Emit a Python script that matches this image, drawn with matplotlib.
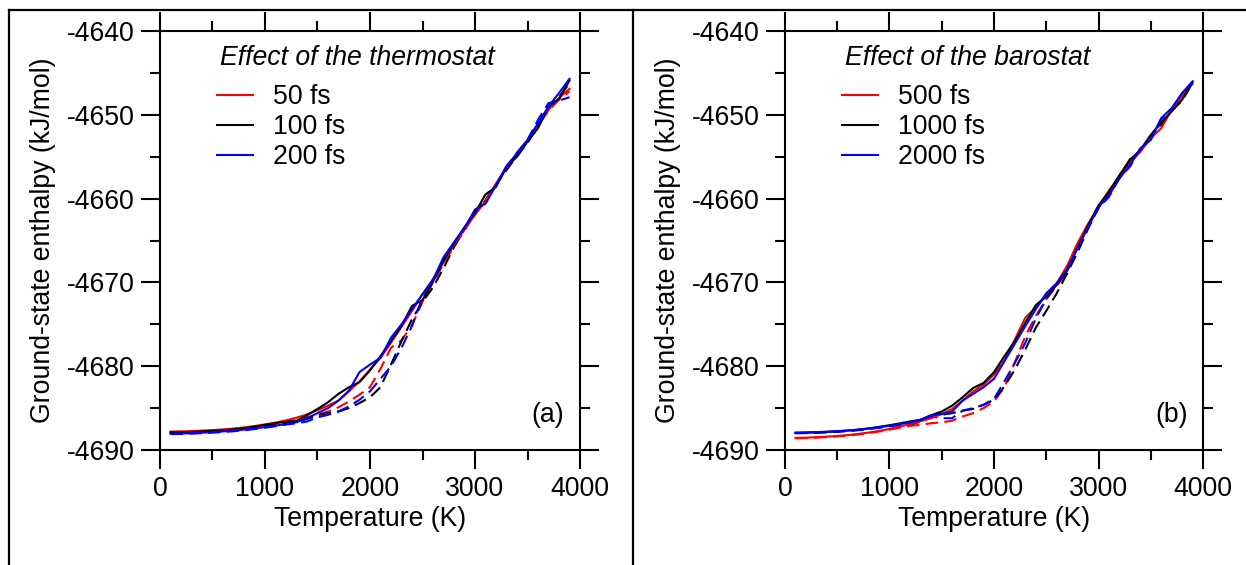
import matplotlib
matplotlib.use("Agg")
import matplotlib.pyplot as plt
from matplotlib.lines import Line2D
from matplotlib.ticker import MultipleLocator

plt.rcParams['font.family'] = ['Liberation Sans', 'DejaVu Sans']
plt.rcParams['axes.unicode_minus'] = False

# temperature grid (K), same for every curve
temp = [100, 200, 300, 400, 500, 600, 700, 800, 900, 1000,
        1100, 1200, 1300, 1400, 1500, 1600, 1700, 1800, 1900, 2000,
        2100, 2200, 2300, 2400, 2500, 2600, 2700, 2800, 2900, 3000,
        3100, 3200, 3300, 3400, 3500, 3600, 3700, 3800, 3900]

# (a) thermostat: solid = heating, dashed = cooling
a_labels = ["50 fs", "100 fs", "200 fs"]
a_red_solid = [-4687.80, -4687.78, -4687.74, -4687.68, -4687.62, -4687.54, -4687.44, -4687.30, -4687.14, -4686.94,
               -4686.72, -4686.46, -4686.14, -4685.75, -4685.25, -4684.70, -4684.10, -4683.00, -4681.80, -4680.40,
               -4679.00, -4677.20, -4675.30, -4673.40, -4671.40, -4669.60, -4667.60, -4665.50, -4663.70, -4661.90,
               -4660.30, -4658.20, -4656.30, -4654.80, -4653.10, -4651.40, -4649.40, -4648.00, -4646.90]
a_black_solid = [-4687.90, -4687.88, -4687.84, -4687.78, -4687.72, -4687.64, -4687.54, -4687.40, -4687.22, -4687.00,
                 -4686.80, -4686.62, -4686.50, -4685.85, -4685.10, -4684.30, -4683.30, -4682.50, -4681.90, -4680.50,
                 -4678.80, -4677.00, -4675.20, -4672.80, -4672.10, -4669.90, -4667.40, -4665.30, -4663.40, -4661.70,
                 -4659.50, -4658.60, -4656.20, -4655.00, -4653.20, -4651.60, -4649.00, -4648.10, -4645.90]
a_blue_solid = [-4688.05, -4688.03, -4687.99, -4687.93, -4687.86, -4687.78, -4687.68, -4687.56, -4687.42, -4687.26,
                -4687.08, -4686.90, -4686.68, -4686.20, -4685.60, -4685.00, -4684.10, -4682.90, -4680.70, -4679.80,
                -4679.00, -4676.60, -4675.00, -4673.20, -4671.40, -4669.70, -4667.00, -4665.20, -4663.50, -4661.30,
                -4660.60, -4658.40, -4656.10, -4654.60, -4653.00, -4651.00, -4649.00, -4647.40, -4645.70]
a_red_dash = [-4687.85, -4687.83, -4687.79, -4687.73, -4687.66, -4687.58, -4687.48, -4687.36, -4687.22, -4687.06,
              -4686.88, -4686.66, -4686.40, -4686.10, -4685.80, -4685.40, -4684.90, -4684.20, -4683.40, -4682.50,
              -4680.30, -4677.80, -4676.90, -4675.10, -4672.30, -4670.00, -4667.80, -4665.70, -4663.80, -4661.60,
              -4660.10, -4658.40, -4656.40, -4654.70, -4652.90, -4651.20, -4649.50, -4648.20, -4647.20]
a_black_dash = [-4687.95, -4687.93, -4687.89, -4687.84, -4687.78, -4687.70, -4687.60, -4687.48, -4687.33, -4687.15,
                -4687.00, -4686.82, -4686.62, -4686.30, -4685.85, -4685.60, -4685.40, -4685.00, -4684.40, -4683.70,
                -4682.50, -4679.80, -4677.00, -4674.40, -4672.30, -4670.60, -4668.30, -4665.80, -4663.60, -4661.90,
                -4660.20, -4658.30, -4656.60, -4654.90, -4653.40, -4651.10, -4649.20, -4647.90, -4646.20]
a_blue_dash = [-4688.10, -4688.08, -4688.04, -4687.99, -4687.93, -4687.85, -4687.76, -4687.64, -4687.50, -4687.34,
               -4687.16, -4686.96, -4686.80, -4686.60, -4686.10, -4685.80, -4685.40, -4684.80, -4684.00, -4683.00,
               -4681.50, -4680.00, -4677.80, -4675.20, -4671.80, -4669.80, -4667.60, -4665.40, -4663.60, -4661.40,
               -4660.50, -4658.30, -4656.20, -4654.50, -4653.00, -4650.60, -4648.60, -4648.30, -4647.90]

# (b) barostat
b_labels = ["500 fs", "1000 fs", "2000 fs"]
b_red_solid = [-4688.55, -4688.52, -4688.47, -4688.40, -4688.32, -4688.22, -4688.08, -4687.92, -4687.72, -4687.48,
               -4687.20, -4686.90, -4686.55, -4686.20, -4685.70, -4685.10, -4684.10, -4683.00, -4682.20, -4681.00,
               -4679.30, -4676.80, -4674.20, -4673.00, -4671.40, -4670.10, -4668.00, -4665.30, -4663.00, -4661.00,
               -4659.00, -4657.40, -4655.80, -4654.40, -4652.80, -4651.60, -4649.40, -4647.80, -4646.30]
b_black_solid = [-4687.95, -4687.93, -4687.89, -4687.84, -4687.77, -4687.68, -4687.57, -4687.42, -4687.24, -4687.04,
                 -4686.82, -4686.58, -4686.40, -4685.85, -4685.40, -4684.70, -4683.70, -4682.60, -4682.00, -4680.70,
                 -4678.80, -4677.00, -4674.80, -4672.70, -4671.70, -4670.30, -4668.60, -4665.80, -4663.20, -4660.80,
                 -4659.20, -4657.20, -4655.40, -4654.20, -4652.40, -4650.90, -4649.60, -4648.20, -4646.10]
b_blue_solid = [-4687.92, -4687.90, -4687.86, -4687.81, -4687.75, -4687.67, -4687.57, -4687.44, -4687.28, -4687.10,
                -4686.90, -4686.70, -4686.35, -4685.85, -4685.70, -4685.40, -4684.10, -4683.30, -4682.50, -4681.50,
                -4679.40, -4677.30, -4675.20, -4673.20, -4671.30, -4670.10, -4668.40, -4665.90, -4663.40, -4661.00,
                -4659.60, -4657.60, -4656.00, -4654.00, -4653.00, -4650.40, -4649.20, -4647.40, -4646.00]
b_red_dash = [-4688.60, -4688.57, -4688.52, -4688.45, -4688.37, -4688.27, -4688.14, -4687.98, -4687.79, -4687.57,
              -4687.32, -4687.10, -4687.00, -4686.80, -4686.70, -4686.50, -4686.00, -4685.60, -4685.00, -4684.20,
              -4682.50, -4679.50, -4676.40, -4674.00, -4672.00, -4670.40, -4668.70, -4665.60, -4663.10, -4661.20,
              -4659.40, -4657.60, -4655.70, -4654.30, -4652.60, -4651.00, -4649.30, -4647.90, -4646.40]
b_black_dash = [-4688.00, -4687.98, -4687.94, -4687.88, -4687.81, -4687.72, -4687.61, -4687.47, -4687.31, -4687.14,
                -4687.02, -4686.95, -4686.60, -4686.10, -4685.80, -4685.60, -4685.30, -4685.10, -4684.60, -4684.00,
                -4682.40, -4680.40, -4678.00, -4675.40, -4673.40, -4671.30, -4668.90, -4666.40, -4663.60, -4661.10,
                -4659.40, -4657.40, -4655.30, -4654.30, -4652.60, -4651.20, -4649.50, -4648.30, -4646.20]
b_blue_dash = [-4687.98, -4687.96, -4687.92, -4687.87, -4687.81, -4687.73, -4687.63, -4687.50, -4687.34, -4687.15,
               -4686.95, -4686.75, -4686.50, -4686.00, -4686.20, -4686.20, -4685.30, -4685.00, -4684.60, -4683.90,
               -4681.80, -4679.60, -4677.20, -4674.30, -4672.00, -4670.30, -4668.60, -4665.70, -4663.30, -4661.10,
               -4659.80, -4657.50, -4656.20, -4654.10, -4652.90, -4650.50, -4649.40, -4647.50, -4646.10]

colors = ["#ff0000", "#000000", "#0000ff"]
fs = 19.2

fig = plt.figure(figsize=(12.46, 5.65), dpi=100)

# outer frame lines of the original figure
fig.add_artist(Line2D([0.0072, 0.0072], [0.0, 0.9823], color="black", lw=1.6, transform=fig.transFigure))
fig.add_artist(Line2D([0.0072, 1.0], [0.9823, 0.9823], color="black", lw=1.6, transform=fig.transFigure))
fig.add_artist(Line2D([0.508, 0.508], [0.0, 0.9823], color="black", lw=1.6, transform=fig.transFigure))

ax_a = fig.add_axes([0.1284, 0.2035, 0.3371, 0.7416])
ax_b = fig.add_axes([0.6300, 0.2035, 0.3355, 0.7416])

panels = [
    (ax_a, [a_red_solid, a_black_solid, a_blue_solid], [a_red_dash, a_black_dash, a_blue_dash],
     a_labels, "Effect of the thermostat", "(a)"),
    (ax_b, [b_red_solid, b_black_solid, b_blue_solid], [b_red_dash, b_black_dash, b_blue_dash],
     b_labels, "Effect of the barostat", "(b)"),
]

for ax, solids, dashes, labels, title, tag in panels:
    for ys, c in zip(dashes, colors):
        ax.plot(temp, ys, color=c, lw=1.5, dashes=(6, 3))
    handles = []
    for ys, c, lab in zip(solids, colors, labels):
        h, = ax.plot(temp, ys, color=c, lw=1.5, label=lab)
        handles.append(h)

    ax.set_xlim(0, 4000)
    ax.set_ylim(-4690, -4640)
    ax.xaxis.set_major_locator(MultipleLocator(1000))
    ax.xaxis.set_minor_locator(MultipleLocator(500))
    ax.yaxis.set_major_locator(MultipleLocator(10))
    ax.yaxis.set_minor_locator(MultipleLocator(5))
    ax.tick_params(which="both", direction="out", top=True, right=True, width=1.5, labelsize=fs)
    ax.tick_params(which="major", length=13.5, pad=5)
    ax.tick_params(which="minor", length=7)
    for sp in ax.spines.values():
        sp.set_linewidth(1.5)

    ax.set_xlabel("Temperature (K)", fontsize=fs)
    ax.xaxis.set_label_coords(0.5, -0.165)
    ax.xaxis.label.set_va("center")
    ax.set_ylabel("Ground-state enthalpy (kJ/mol)", fontsize=fs)
    ax.yaxis.set_label_coords(-0.279, 0.5)
    ax.yaxis.label.set_va("center")

    ax.text(0.143, 0.9356, title, transform=ax.transAxes, fontsize=fs, style="italic",
            ha="left", va="center")
    ax.legend(handles=handles, loc="upper left", bbox_to_anchor=(0.136, 0.873), frameon=False,
              fontsize=fs, handlelength=1.35, handletextpad=0.75, labelspacing=0.15,
              borderpad=0, borderaxespad=0)
    ax.text(0.924, 0.0835, tag, transform=ax.transAxes, fontsize=fs, ha="center", va="center")

fig.savefig("out.png", dpi=100)
